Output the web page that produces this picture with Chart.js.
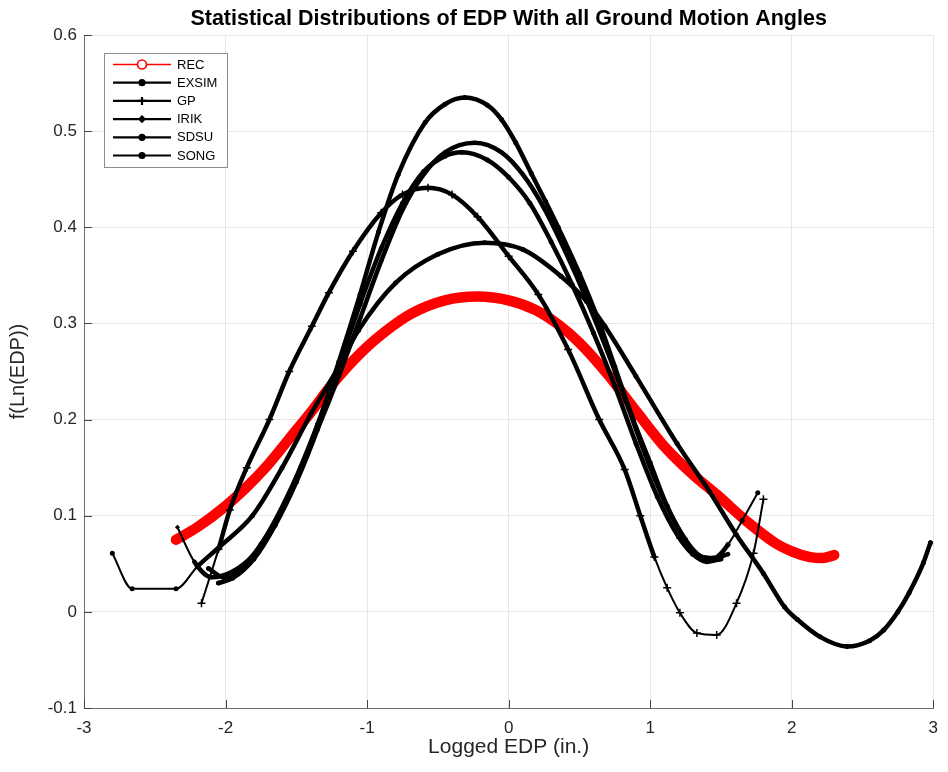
<!DOCTYPE html>
<html>
<head>
<meta charset="utf-8">
<title>Statistical Distributions of EDP</title>
<script src="https://cdn.jsdelivr.net/npm/chart.js@4.4.1/dist/chart.umd.min.js"></script>
<style>
  html, body { margin: 0; padding: 0; background: #fff; }
  #wrap { width: 948px; height: 772px; }
</style>
</head>
<body>
<div id="wrap"><canvas id="edp-chart" width="948" height="772"></canvas></div>
<script>
// fitted densities of ln(EDP), one curve per simulation source
const seriesNames = ["REC", "EXSIM", "GP", "IRIK", "SDSU", "SONG"];

const recX = [-2.35, -2.2, -2.0, -1.85, -1.7, -1.55, -1.4, -1.25, -1.04, -0.85, -0.69, -0.45, -0.22, 0.0, 0.19, 0.35, 0.5, 0.7, 0.91, 1.1, 1.3, 1.47, 1.7, 1.89, 2.0, 2.13, 2.22, 2.3];
const recY = [0.075, 0.088, 0.11, 0.13, 0.153, 0.18, 0.207, 0.236, 0.27, 0.294, 0.31, 0.324, 0.328, 0.324, 0.314, 0.299, 0.28, 0.247, 0.207, 0.172, 0.143, 0.122, 0.092, 0.071, 0.063, 0.057, 0.056, 0.059];

const exsimX = [-2.12, -2.0, -1.88, -1.75, -1.62, -1.5, -1.35, -1.2, -1.05, -0.92, -0.78, -0.59, -0.45, -0.31, -0.15, -0.05, 0.05, 0.16, 0.26, 0.35, 0.5, 0.63, 0.75, 0.88, 1.0, 1.12, 1.25, 1.35, 1.45, 1.55, 1.65, 1.76];
const exsimY = [0.045, 0.035, 0.045, 0.07, 0.1, 0.14, 0.195, 0.26, 0.33, 0.395, 0.455, 0.509, 0.528, 0.535, 0.527, 0.512, 0.488, 0.456, 0.427, 0.4, 0.352, 0.305, 0.255, 0.2, 0.155, 0.11, 0.075, 0.058, 0.056, 0.07, 0.095, 0.124];

const gpX = [-2.17, -2.05, -1.97, -1.85, -1.69, -1.55, -1.39, -1.27, -1.1, -0.9, -0.75, -0.57, -0.4, -0.22, 0.0, 0.21, 0.42, 0.64, 0.82, 0.93, 1.03, 1.12, 1.21, 1.33, 1.47, 1.61, 1.73, 1.8];
const gpY = [0.009, 0.065, 0.106, 0.15, 0.2, 0.25, 0.297, 0.332, 0.375, 0.415, 0.434, 0.441, 0.434, 0.411, 0.37, 0.33, 0.273, 0.2, 0.148, 0.1, 0.057, 0.025, -0.001, -0.022, -0.024, 0.009, 0.061, 0.117];

const irikX = [-2.34, -2.22, -2.1, -1.95, -1.8, -1.65, -1.5, -1.35, -1.2, -1.05, -0.9, -0.75, -0.6, -0.45, -0.24, -0.05, 0.1, 0.25, 0.4, 0.55, 0.7, 0.85, 1.0, 1.15, 1.3, 1.42, 1.55];
const irikY = [0.088, 0.052, 0.036, 0.042, 0.06, 0.095, 0.14, 0.19, 0.245, 0.305, 0.365, 0.418, 0.455, 0.478, 0.488, 0.478, 0.455, 0.42, 0.375, 0.325, 0.27, 0.21, 0.15, 0.1, 0.065, 0.054, 0.06];

const sdsuX = [-2.05, -1.95, -1.8, -1.65, -1.5, -1.35, -1.2, -1.05, -0.9, -0.75, -0.6, -0.45, -0.33, -0.15, 0.0, 0.15, 0.3, 0.45, 0.6, 0.75, 0.9, 1.05, 1.2, 1.3, 1.4, 1.5];
const sdsuY = [0.03, 0.035, 0.055, 0.09, 0.135, 0.19, 0.255, 0.32, 0.378, 0.425, 0.458, 0.474, 0.478, 0.47, 0.452, 0.425, 0.385, 0.34, 0.29, 0.235, 0.175, 0.12, 0.078, 0.06, 0.052, 0.055];

const songX = [-2.8, -2.66, -2.35, -2.2, -2.04, -1.81, -1.6, -1.4, -1.2, -1.06, -0.8, -0.5, -0.17, 0.1, 0.37, 0.55, 0.68, 0.9, 1.19, 1.42, 1.61, 1.8, 1.95, 2.04, 2.2, 2.39, 2.55, 2.65, 2.75, 2.83, 2.93, 2.98];
const songY = [0.061, 0.024, 0.024, 0.047, 0.068, 0.1, 0.15, 0.205, 0.255, 0.293, 0.342, 0.372, 0.384, 0.377, 0.349, 0.323, 0.297, 0.245, 0.175, 0.125, 0.08, 0.04, 0.005, -0.008, -0.026, -0.036, -0.03, -0.019, 0.0, 0.02, 0.051, 0.072];

function toPoints(xs, ys) {
  return xs.map(function (x, i) { return { x: x, y: ys[i] }; });
}

// sparse tails of the sample are drawn thinner than the dense middle
function tailWidth(lo, hi) {
  return function (ctx) {
    var a = ctx.p0.parsed.x, b = ctx.p1.parsed.x;
    return (b <= lo || a >= hi) ? 2 : undefined;
  };
}

function blackSeries(label, xs, ys, style, lo, hi) {
  return {
    label: label,
    data: toPoints(xs, ys),
    showLine: true,
    cubicInterpolationMode: "monotone",
    borderColor: "#000",
    backgroundColor: "#000",
    borderWidth: 4.5,
    borderJoinStyle: "round",
    borderCapStyle: "round",
    pointStyle: style,
    pointRadius: style === "cross" ? 4 : 2.5,
    pointBorderWidth: style === "cross" ? 1.5 : 0,
    pointBackgroundColor: "#000",
    pointBorderColor: "#000",
    segment: { borderWidth: tailWidth(lo, hi) },
    order: 1,
  };
}

// legend drawn as line + marker samples in a boxed panel
const boxedLegend = {
  id: "boxedLegend",
  afterDraw: function (chart) {
    var ctx = chart.ctx;
    var area = chart.chartArea;
    var x0 = area.left + 20, y0 = area.top + 18, w = 123, h = 114;
    ctx.save();
    ctx.fillStyle = "#fff";
    ctx.fillRect(x0, y0, w, h);
    ctx.strokeStyle = "#8c8c8c";
    ctx.lineWidth = 1;
    ctx.strokeRect(x0 + 0.5, y0 + 0.5, w, h);
    ctx.font = "13px 'Liberation Sans', Arial, sans-serif";
    ctx.textBaseline = "middle";
    chart.data.datasets.forEach(function (ds, i) {
      var y = y0 + 11.5 + i * 18.2;
      var red = ds.borderColor !== "#000";
      ctx.strokeStyle = ds.borderColor;
      ctx.lineWidth = red ? 1.6 : 2.2;
      ctx.beginPath();
      ctx.moveTo(x0 + 9, y);
      ctx.lineTo(x0 + 67, y);
      ctx.stroke();
      ctx.fillStyle = red ? "#fff" : "#000";
      ctx.strokeStyle = ds.borderColor;
      Chart.helpers.drawPoint(ctx, {
        pointStyle: red ? "circle" : ds.pointStyle,
        radius: red ? 4.5 : ds.pointRadius,
        borderWidth: red ? 1.8 : 1.5,
        rotation: 0,
      }, x0 + 38, y);
      ctx.fillStyle = "#000";
      ctx.fillText(ds.label, x0 + 73, y + 0.5);
    });
    ctx.restore();
  },
};

// inward tick marks on the left and bottom axes
const inwardTicks = {
  id: "inwardTicks",
  afterDatasetsDraw: function (chart) {
    var ctx = chart.ctx;
    var a = chart.chartArea;
    var xs = chart.scales.x, ys = chart.scales.y;
    ctx.save();
    ctx.strokeStyle = "#444";
    ctx.lineWidth = 1;
    ctx.beginPath();
    xs.ticks.forEach(function (t) {
      var px = Math.round(xs.getPixelForValue(t.value)) + 0.5;
      ctx.moveTo(px, a.bottom);
      ctx.lineTo(px, a.bottom - 8);
    });
    ys.ticks.forEach(function (t) {
      var py = Math.round(ys.getPixelForValue(t.value)) + 0.5;
      ctx.moveTo(a.left, py);
      ctx.lineTo(a.left + 8, py);
    });
    ctx.stroke();
    ctx.restore();
  },
};

Chart.defaults.font.family = "'Liberation Sans', Arial, sans-serif";
Chart.defaults.color = "#262626";

new Chart(document.getElementById("edp-chart"), {
  type: "scatter",
  data: {
    datasets: [
      {
        label: seriesNames[0],
        data: toPoints(recX, recY),
        showLine: true,
        cubicInterpolationMode: "monotone",
        borderColor: "#ff0000",
        backgroundColor: "#ff0000",
        borderWidth: 10.5,
        borderJoinStyle: "round",
        borderCapStyle: "round",
        pointRadius: 0,
        pointStyle: "circle",
        order: 10,
      },
      blackSeries(seriesNames[1], exsimX, exsimY, "circle", -Infinity, 1.55),
      blackSeries(seriesNames[2], gpX, gpY, "cross", -2.05, 1.03),
      blackSeries(seriesNames[3], irikX, irikY, "rectRot", -2.22, Infinity),
      blackSeries(seriesNames[4], sdsuX, sdsuY, "circle", -Infinity, Infinity),
      blackSeries(seriesNames[5], songX, songY, "circle", -2.2, Infinity),
    ],
  },
  options: {
    responsive: false,
    animation: false,
    layout: { padding: { left: 0, right: 11, top: 0, bottom: 0 } },
    plugins: {
      legend: { display: false },
      tooltip: { enabled: false },
      title: {
        display: true,
        fullSize: false,
        text: "Statistical Distributions of EDP With all Ground Motion Angles",
        color: "#000",
        font: { size: 21.5, weight: "bold" },
        padding: { top: 6, bottom: 3.2 },
      },
    },
    scales: {
      x: {
        type: "linear",
        min: -3,
        max: 3,
        afterFit: function (scale) { scale.height = 64; },
        grid: { color: "#e6e6e6", drawTicks: false },
        border: { color: "#6e6e6e", width: 1 },
        ticks: {
          stepSize: 1,
          padding: 10,
          font: { size: 17 },
          color: "#262626",
          callback: function (v) { return String(v); },
        },
        title: {
          display: true,
          text: "Logged EDP (in.)",
          font: { size: 21 },
          color: "#262626",
          padding: { top: 0, bottom: 12 },
        },
      },
      y: {
        type: "linear",
        min: -0.1,
        max: 0.6,
        afterFit: function (scale) { scale.width = 84; },
        grid: { color: "#e6e6e6", drawTicks: false },
        border: { color: "#6e6e6e", width: 1 },
        ticks: {
          stepSize: 0.1,
          padding: 7,
          font: { size: 17 },
          color: "#262626",
          callback: function (v) {
            return Math.abs(v) < 1e-9 ? "0" : String(Math.round(v * 10) / 10);
          },
        },
        title: {
          display: true,
          text: "f(Ln(EDP))",
          font: { size: 20 },
          color: "#262626",
          padding: { top: 6, bottom: 0 },
        },
      },
    },
  },
  plugins: [inwardTicks, boxedLegend],
});
</script>
</body>
</html>
